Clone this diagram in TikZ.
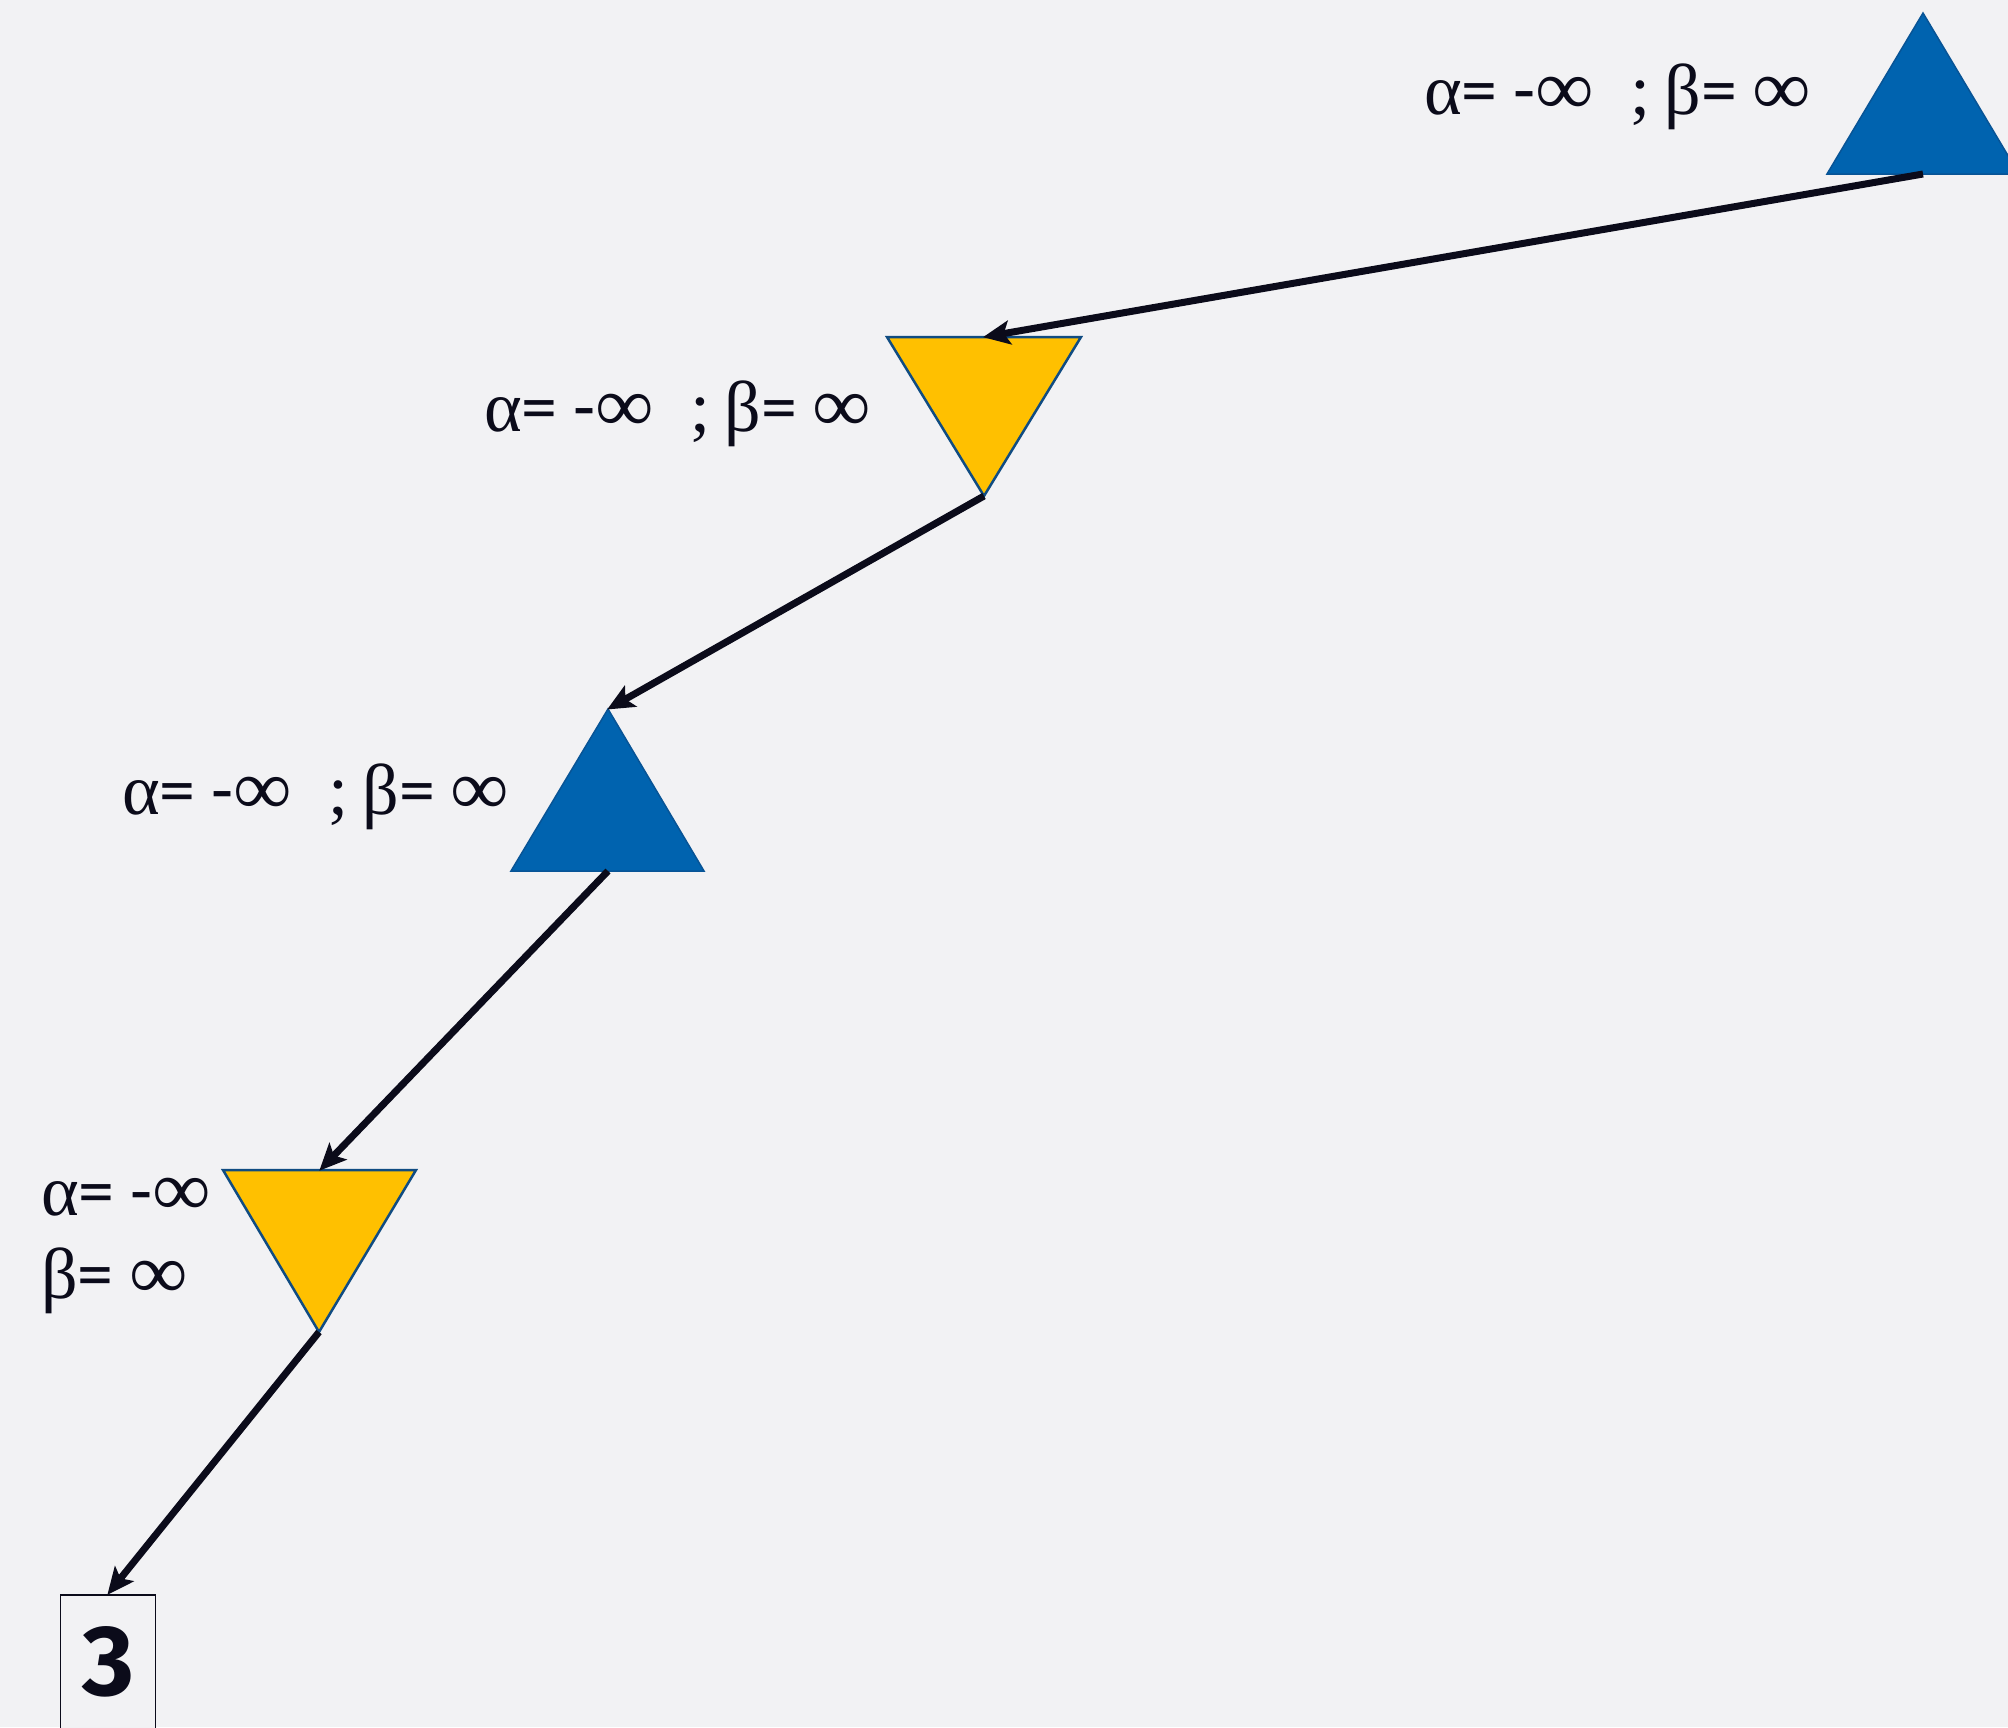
\documentclass[tikz,border=0pt]{standalone}
\usepackage{fontspec}
\usepackage{graphicx}
\setmainfont{Liberation Serif}
\newfontfamily\cf{Carlito}
\newfontfamily\numfont{Fira Sans}
\usetikzlibrary{arrows.meta}
\definecolor{bgc}{RGB}{242,242,244}
\definecolor{maxblue}{RGB}{0,99,175}
\definecolor{maxedge}{RGB}{8,84,150}
\definecolor{minyellow}{RGB}{255,192,0}
\definecolor{minedge}{RGB}{16,76,130}
\definecolor{ink}{RGB}{11,11,26}
\newcommand\infsym{\scalebox{1.14}[1.08]{∞}}
\newcommand\abtext{α{\cf=}\hspace{0.22em}{\cf-}\infsym\hspace{0.5em};\hspace{0.2em}β{\cf=}\hspace{0.22em}\infsym}
\tikzset{
  maxtri/.style={fill=maxblue,draw=maxedge,line width=1.5pt,line join=miter},
  mintri/.style={fill=minyellow,draw=minedge,line width=2.5pt,line join=miter},
  edgearrow/.style={draw=ink,line width=7pt,-{Stealth[length=27pt,width=24pt,inset=6pt]},shorten >=-1pt},
  lab/.style={inner sep=0pt,text=ink,font=\fontsize{72}{87}\selectfont},
  leafbox/.style={draw=ink,line width=1.8pt,fill=bgc,minimum width=95pt,minimum height=180pt,anchor=north,inner sep=0pt}
}
\begin{document}
\begin{tikzpicture}[x=1pt,y=-1pt]
\fill[bgc] (0,0) rectangle (2008,1727);
\useasboundingbox (0,0) rectangle (2008,1727);
\clip (0,0) rectangle (2008,1727);
% triangle 1 (max)
\coordinate (t1apex) at (1923,13);
\coordinate (t1l) at (1827,174);
\coordinate (t1r) at (2019,174);
\coordinate (t1base) at (1923,174);
\draw[maxtri] (t1apex) -- (t1r) -- (t1l) -- cycle;
% triangle 2 (min)
\coordinate (t2l) at (887,337);
\coordinate (t2r) at (1081,337);
\coordinate (t2top) at (984,337);
\coordinate (t2apex) at (984,496);
\draw[mintri] (t2l) -- (t2r) -- (t2apex) -- cycle;
% triangle 3 (max)
\coordinate (t3apex) at (608,709);
\coordinate (t3l) at (511,871);
\coordinate (t3r) at (704,871);
\coordinate (t3base) at (608,871);
\draw[maxtri] (t3apex) -- (t3r) -- (t3l) -- cycle;
% triangle 4 (min)
\coordinate (t4l) at (223,1170);
\coordinate (t4r) at (416,1170);
\coordinate (t4top) at (320,1170);
\coordinate (t4apex) at (319,1332);
\draw[mintri] (t4l) -- (t4r) -- (t4apex) -- cycle;
% leaf
\node[leafbox] (leaf) at (108,1594) {};
\node[inner sep=0pt,text=ink,font=\numfont\bfseries\fontsize{100}{100}\selectfont] (leafval) at (108,1662) {3};
% labels
\node[lab,anchor=base west] (lab1) at (1424,114) {\abtext};
\node[lab,anchor=base west] (lab2) at (484,431) {\abtext};
\node[lab,anchor=base west] (lab3) at (122,814) {\abtext};
\node[lab,anchor=base west] (lab4a) at (41,1215) {α{\cf=}\hspace{0.22em}{\cf-}\infsym};
\node[lab,anchor=base west] (lab4b) at (41,1298) {β{\cf=}\hspace{0.22em}\infsym};
% edges
\draw[edgearrow] (t1base) -- (t2top);
\draw[edgearrow] (t2apex) -- (t3apex);
\draw[edgearrow] (t3base) -- (t4top);
\draw[edgearrow] (t4apex) -- (leaf.north);
\end{tikzpicture}
\end{document}
